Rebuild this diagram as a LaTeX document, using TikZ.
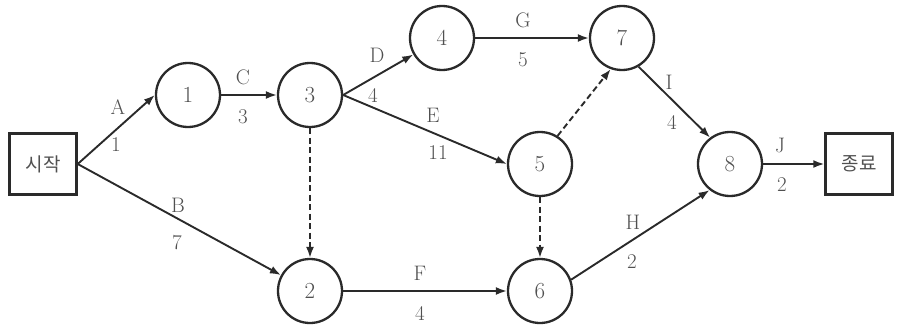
\documentclass[tikz,border=0pt]{standalone}
\usepackage{fontspec}
\newfontfamily\krfont{Noto Sans CJK KR}
\usetikzlibrary{arrows.meta}
\definecolor{linec}{HTML}{2A2A2A}
\definecolor{txtc}{HTML}{505050}
\begin{document}
\begin{tikzpicture}[x=1pt,y=-1pt,
  ev/.style={circle,draw=linec,line width=2.3pt,minimum size=64pt,inner sep=0pt,text=txtc,font=\fontsize{23}{25}\selectfont},
  term/.style={rectangle,draw=linec,line width=2.4pt,minimum width=67pt,minimum height=61pt,inner sep=0pt,text=txtc,font=\krfont\fontsize{19}{22}\selectfont},
  act/.style={draw=linec,line width=1.9pt,-{Latex[length=11pt,width=8pt]}},
  dum/.style={act,dash pattern=on 6pt off 3.5pt},
  lab/.style={text=txtc,font=\fontsize{21}{23}\selectfont,inner sep=0pt}]
\useasboundingbox (0,0) rectangle (908,332);
% nodes
\node[term] (start) at (43,164) {시작};
\node[ev] (n1) at (188,95) {1};
\node[ev] (n3) at (310,95) {3};
\node[ev] (n4) at (442,38) {4};
\node[ev] (n7) at (622,38) {7};
\node[ev] (n5) at (540,164) {5};
\node[ev] (n8) at (730,164) {8};
\node[term] (fin) at (859,164) {종료};
\node[ev] (n2) at (310,291) {2};
\node[ev] (n6) at (540,291) {6};
% activities
\draw[act] (start.east) -- (n1.west);
\draw[act] (start.east) -- (n2);
\draw[act] (n1) -- (n3);
\draw[act] (n3.east) -- (n4);
\draw[act] (n3.east) -- (n5.west);
\draw[act] (n4) -- (n7);
\draw[act] (n2) -- (n6);
\draw[act] (n6.20) -- (n8.232);
\draw[act] (n7.300) -- (n8.127);
\draw[act] (n8) -- (fin);
% dummies
\draw[dum] (n3) -- (n2);
\draw[dum] (n5) -- (n6);
\draw[dum] (n5.58) -- (n7.250);
% labels
\node[lab] (lA) at (118,107) {A};
\node[lab] (tA) at (116,145) {1};
\node[lab] (lB) at (178,205) {B};
\node[lab] (tB) at (177,243) {7};
\node[lab] (lC) at (243,77) {C};
\node[lab] (tC) at (243,117) {3};
\node[lab] (lD) at (377,55) {D};
\node[lab] (tD) at (373,95) {4};
\node[lab] (lE) at (433,115) {E};
\node[lab] (tE) at (438,153) {11};
\node[lab] (lG) at (523,20) {G};
\node[lab] (tG) at (523,60) {5};
\node[lab] (lI) at (669,82) {I};
\node[lab] (tI) at (672,122) {4};
\node[lab] (lJ) at (780,145) {J};
\node[lab] (tJ) at (782,185) {2};
\node[lab] (lH) at (633,222) {H};
\node[lab] (tH) at (632,262) {2};
\node[lab] (lF) at (420,273) {F};
\node[lab] (tF) at (420,313) {4};
\end{tikzpicture}
\end{document}
